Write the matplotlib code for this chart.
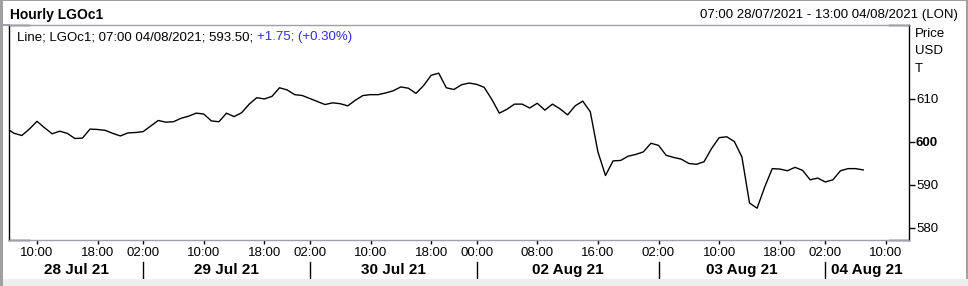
import numpy as np
import matplotlib.pyplot as plt
from matplotlib.patches import Rectangle
import matplotlib.transforms as mtransforms

plt.rcParams['font.family'] = ['Liberation Sans', 'DejaVu Sans']

# hourly closes, bar index -4 (06:00 28 Jul) .. 109 (07:00 04 Aug)
prices = [603.1, 602.0, 601.5, 603.0, 604.8, 603.3, 601.9, 602.5, 602.0, 600.8,
          600.9, 603.0, 602.9, 602.7, 602.0, 601.4, 602.1, 602.2, 602.4, 603.7,
          605.0, 604.6, 604.7, 605.5, 606.0, 606.7, 606.5, 604.9, 604.7, 606.7,
          605.9, 606.8, 608.8, 610.3, 610.0, 610.6, 612.6, 612.1, 611.0, 610.8,
          610.1, 609.4, 608.7, 609.1, 608.9, 608.4, 609.7, 610.8, 611.0, 611.0,
          611.4, 611.9, 612.8, 612.5, 611.3, 613.1, 615.5, 616.0, 612.6, 612.2,
          613.3, 613.7, 613.4, 612.7, 609.9, 606.7, 607.6, 608.8, 608.8, 607.9,
          609.0, 607.4, 608.8, 607.7, 606.3, 608.4, 609.5, 607.0, 597.7, 592.2,
          595.6, 595.7, 596.7, 597.1, 597.7, 599.7, 599.2, 596.9, 596.4, 596.0,
          595.0, 594.8, 595.4, 598.5, 601.0, 601.2, 600.1, 596.5, 585.8, 584.6,
          589.5, 593.8, 593.7, 593.3, 594.1, 593.4, 591.2, 591.6, 590.7, 591.2,
          593.3, 593.8, 593.8, 593.5]
bars = np.arange(-4, -4 + len(prices))

time_ticks = [0, 8, 14, 22, 30, 36, 44, 52, 58, 66, 74, 82, 90, 98, 104, 112]
time_labels = ['10:00', '18:00', '02:00', '10:00', '18:00', '02:00', '10:00', '18:00',
               '00:00', '08:00', '16:00', '02:00', '10:00', '18:00', '02:00', '10:00']
day_bounds = [14, 36, 58, 82, 104]
day_labels = ['28 Jul 21', '29 Jul 21', '30 Jul 21', '02 Aug 21', '03 Aug 21', '04 Aug 21']
y_ticks = [580, 590, 600, 610]

W, H = 968, 286
fig = plt.figure(figsize=(W / 100, H / 100), dpi=100)
fig.patch.set_facecolor('white')

def fx(px):
    return px / W

def fy(py):
    return 1 - py / H

ax = fig.add_axes([fx(9), fy(240), fx(900), 215 / H])
ax.plot(bars, prices, color='black', lw=1.0)
x0, x1 = -3.69, 115.04
ax.set_xlim(x0, x1)
ax.set_ylim(577.2, 627.2)

# frame: black sides, grey top/bottom with black corner bits
for s in ['left', 'right']:
    ax.spines[s].set_color('black')
for s in ['top', 'bottom']:
    ax.spines[s].set_color('#a0a0ac')
for s in ax.spines.values():
    s.set_linewidth(1)
c = 20 / 900
for (xa, xb) in [(0, c), (1 - c, 1)]:
    for yy in [0, 1]:
        ax.plot([xa, xb], [yy, yy], color='black', lw=1, transform=ax.transAxes, clip_on=False)

ax.yaxis.tick_right()
ax.set_yticks(y_ticks)
ax.set_yticklabels([str(v) for v in y_ticks], fontsize=9.5)
for lab, v in zip(ax.get_yticklabels(), y_ticks):
    if v == 600:
        lab.set_fontweight('bold')
ax.tick_params(axis='y', direction='out', length=4, width=1, pad=1, colors='black')

ax.set_xticks(time_ticks)
ax.set_xticklabels(time_labels, fontsize=9.5)
ax.tick_params(axis='x', direction='out', length=3, width=1, pad=2, colors='black')

# day separators and date labels
trans = mtransforms.blended_transform_factory(ax.transData, ax.transAxes)
for b in day_bounds:
    ax.plot([b, b], [-0.102, -0.181], color='black', lw=1, transform=trans, clip_on=False)
edges = [x0] + day_bounds + [x1]
for i, lab in enumerate(day_labels):
    ax.text((edges[i] + edges[i + 1]) / 2, -0.14, lab, transform=trans, ha='center',
            va='center', fontsize=11, fontweight='bold')

# last value box
ax.text(1.0, prices[-1], f'{prices[-1]:.2f}', transform=trans, ha='left', va='center',
        fontsize=9.5, fontweight='bold', color='white',
        bbox=dict(boxstyle='square,pad=0.12', fc='black', ec='black'))

# legend line inside plot
t1 = fig.text(fx(17), fy(40), 'Line; LGOc1; 07:00 04/08/2021; 593.50; ', fontsize=9.5,
              ha='left', va='baseline')
fig.canvas.draw()
ax.annotate('+1.75; (+0.30%)', xy=(1, 0), xycoords=t1, xytext=(0, 0), textcoords='offset points',
            fontsize=9.5, color='#2e2ed8', ha='left', va='bottom')

# header
fig.text(fx(10), fy(15), 'Hourly LGOc1', fontsize=10, fontweight='bold', ha='left', va='center')
fig.text(fx(958), fy(15), '07:00 28/07/2021 - 13:00 04/08/2021 (LON)', fontsize=9.5,
         ha='right', va='center')
for i, s in enumerate(['Price', 'USD', 'T']):
    fig.text(fx(915), fy(34 + 17.5 * i), s, fontsize=9.5, ha='left', va='center')

# outer window border
fig.add_artist(Rectangle((0, 0), fx(2.5), 1, transform=fig.transFigure, fc='#a0a0a0', ec='none'))
fig.add_artist(Rectangle((0, 1 - 1.2 / H), 1, 1.2 / H, transform=fig.transFigure, fc='#a0a0a0', ec='none'))
fig.add_artist(Rectangle((1 - 2.5 / W, 0), 2.5 / W, 1, transform=fig.transFigure, fc='#a0a0a0', ec='none'))
fig.add_artist(Rectangle((fx(2.5), 0), 1, 7 / H, transform=fig.transFigure, fc='#eeeeee', ec='none'))
fig.add_artist(Rectangle((0, 1 - 25.5 / H), fx(9), 1 / H, transform=fig.transFigure, fc='#a0a0ac', ec='none'))

fig.savefig('out.png', dpi=100)
